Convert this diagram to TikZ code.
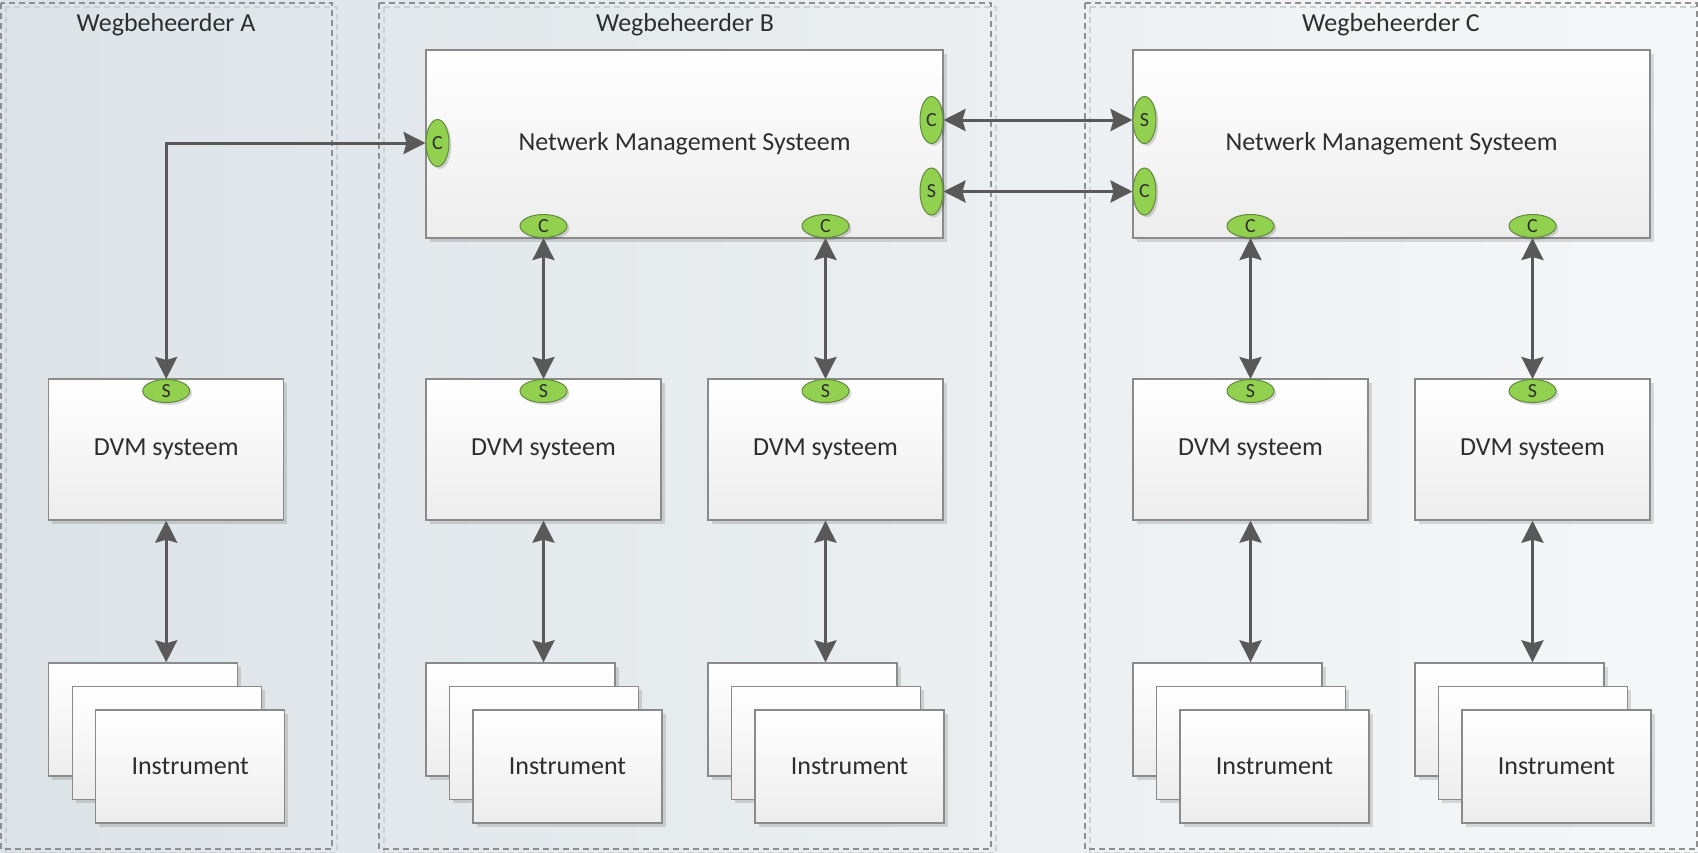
\documentclass[tikz,border=0pt]{standalone}
\usepackage{fontspec}
\setmainfont{Carlito}
\usetikzlibrary{arrows.meta,shapes.geometric,shadows,calc}
\definecolor{txt}{HTML}{2E2E2E}
\definecolor{boxline}{HTML}{8A8A8A}
\definecolor{arr}{HTML}{595959}
\definecolor{portfill}{HTML}{92D050}
\definecolor{portline}{HTML}{62883C}
\definecolor{bgL}{HTML}{DCE3E7}
\definecolor{bgM}{HTML}{E9EDF0}
\definecolor{bgR}{HTML}{F6F7F8}
\definecolor{dashc}{HTML}{8F8F8F}
\definecolor{dashs}{HTML}{CBD0D3}
\tikzset{
  sysbox/.style={draw=boxline, line width=0.7pt, top color=white, bottom color=black!7,
    inner sep=0pt, font=\fontsize{13}{15}\selectfont, text=txt,
    drop shadow={shadow xshift=1.8pt, shadow yshift=-1.8pt, fill=black, opacity=0.13}},
  nmsbox/.style={sysbox, minimum width=258.5pt, minimum height=94pt},
  dvmbox/.style={sysbox, minimum width=117.5pt, minimum height=70.5pt},
  instbox/.style={sysbox, minimum width=94.5pt, minimum height=56.5pt},
  hport/.style={ellipse, draw=portline, line width=0.5pt, fill=portfill, inner sep=0pt,
    minimum width=23.5pt, minimum height=11.5pt, font=\fontsize{10}{10}\selectfont, text=txt,
    drop shadow={shadow xshift=1.2pt, shadow yshift=-1.2pt, fill=black, opacity=0.15}},
  vport/.style={hport, minimum width=11.5pt, minimum height=23.5pt},
  conn/.style={draw=arr, line width=1.5pt,
    {Stealth[length=11pt,width=11pt,inset=1.5pt]}-{Stealth[length=11pt,width=11pt,inset=1.5pt]}},
  region/.style={draw=dashc, line width=0.6pt, dash pattern=on 3pt off 2pt},
  regionshadow/.style={draw=dashs, line width=0.6pt, dash pattern=on 3pt off 2pt},
  title/.style={font=\fontsize{13}{15}\selectfont, text=txt}
}
\begin{document}
\begin{tikzpicture}[x=0.5pt,y=-0.5pt]
\useasboundingbox (0,0) rectangle (1698,852);
\shade[left color=bgL, middle color=bgM, right color=bgR] (0,0) rectangle (1698,852);

% regions
\draw[regionshadow] (6,7) rectangle (337,853);
\draw[regionshadow] (384,7) rectangle (996,853);
\draw[regionshadow] (1090,7) rectangle (1702,853);
\draw[region] (1,3) rectangle (332,849);
\draw[region] (379,3) rectangle (991,849);
\draw[region] (1085,3) rectangle (1697,849);

\node[title] (tA) at (166,25) {Wegbeheerder A};
\node[title] (tB) at (685,25) {Wegbeheerder B};
\node[title] (tC) at (1391,25) {Wegbeheerder C};

% network management systems
\node[nmsbox] (nB) at (684.5,144) {Netwerk Management Systeem};
\node[nmsbox] (nC) at (1391.5,144) {Netwerk Management Systeem};

\node[vport] (lB) at (437.5,143) {C};
\node[vport] (rB1) at (931.5,120) {C};
\node[vport] (rB2) at (931.5,191.5) {S};
\node[vport] (lC1) at (1144.5,120) {S};
\node[vport] (lC2) at (1144.5,191.5) {C};

\node[hport] (pB1) at (543.5,226) {C};
\node[hport] (pB2) at (825.5,226) {C};
\node[hport] (pC1) at (1250.5,226) {C};
\node[hport] (pC2) at (1532.5,226) {C};

% DVM systems and instruments
\foreach \n/\l in {A/48.7, B1/426, B2/708, C1/1133, C2/1415}{
  \node[dvmbox] (d\n) at ({\l+117.5},449.5) {DVM systeem};
  \node[hport] (s\n) at ({\l+117.5},391) {S};
  \node[instbox] (i\n a) at ({\l+94.5},719.5) {};
  \node[instbox] (i\n b) at ({\l+118},743) {};
  \node[instbox] (i\n c) at ({\l+141.5},766.5) {Instrument};
  \draw[conn] (d\n.south) -- (d\n.south |- i\n a.north);
}

% connectors
\draw[conn] (sA.north) |- (lB.west);
\draw[conn] (pB1.south) -- (sB1.north);
\draw[conn] (pB2.south) -- (sB2.north);
\draw[conn] (pC1.south) -- (sC1.north);
\draw[conn] (pC2.south) -- (sC2.north);
\draw[conn] (rB1.east) -- (lC1.west);
\draw[conn] (rB2.east) -- (lC2.west);
\end{tikzpicture}
\end{document}
